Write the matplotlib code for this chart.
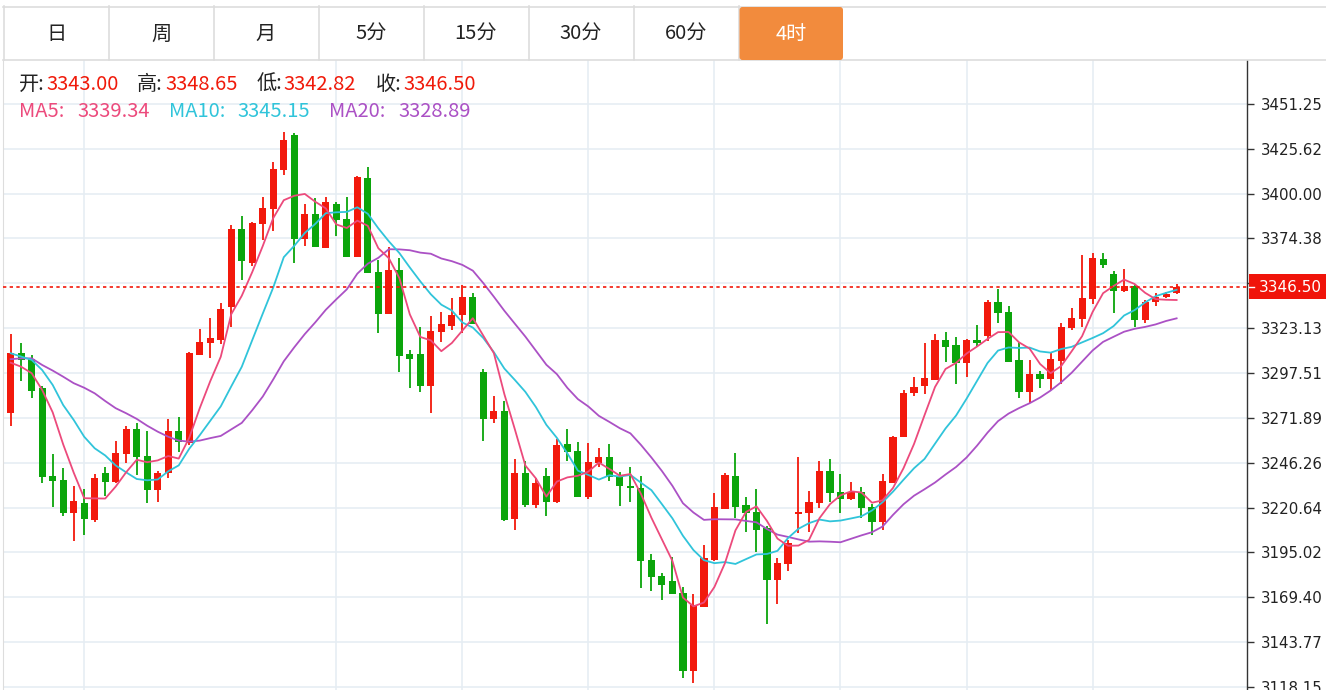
import numpy as np
import pandas as pd
import matplotlib
matplotlib.use("Agg")
import matplotlib.pyplot as plt
from matplotlib.patches import Rectangle, FancyBboxPatch

# ---------------- data ----------------
tabs = ['日', '周', '月', '5分', '15分', '30分', '60分', '4时']
active_tab = '4时'

opens = [3274.7, 3309.0, 3305.5, 3289.0, 3238.7, 3236.4, 3217.5, 3223.3, 3213.6, 3240.4,
         3235.3, 3251.3, 3265.5, 3250.1, 3230.7, 3240.4, 3264.4, 3257.5, 3307.8, 3314.7,
         3316.4, 3335.2, 3379.8, 3360.4, 3382.7, 3391.2, 3413.5, 3433.5, 3374.1, 3388.4,
         3369.0, 3394.1, 3385.5, 3363.8, 3408.9, 3355.2, 3331.2, 3356.4, 3308.4, 3308.4,
         3290.1, 3321.0, 3324.4, 3330.7, 3341.0, 3298.1, 3271.3, 3275.8, 3214.1, 3240.4,
         3222.1, 3238.7, 3223.8, 3257.0, 3253.0, 3226.7, 3246.1, 3249.5, 3238.1, 3233.0,
         3231.8, 3190.7, 3181.6, 3178.7, 3171.9, 3127.3, 3163.9, 3190.7, 3219.8, 3238.7,
         3222.1, 3218.1, 3209.0, 3179.3, 3188.4, 3217.0, 3217.5, 3223.3, 3241.6, 3229.6,
         3225.6, 3229.6, 3221.0, 3212.4, 3234.7, 3261.0, 3286.1, 3290.1, 3293.5, 3316.4,
         3313.5, 3303.3, 3316.4, 3318.7, 3338.1, 3332.4, 3305.0, 3286.7, 3297.0, 3294.1,
         3304.4, 3323.2, 3328.4, 3339.8, 3362.7, 3354.1, 3344.4, 3347.2, 3327.8, 3338.1,
         3341.0, 3343.00]
highs = [3319.8, 3314.7, 3307.8, 3290.1, 3251.3, 3243.3, 3233.0, 3231.3, 3239.8, 3243.8,
         3258.7, 3267.3, 3269.0, 3264.4, 3241.6, 3271.3, 3272.4, 3309.5, 3322.7, 3329.0,
         3337.5, 3382.1, 3387.2, 3383.8, 3398.1, 3418.1, 3435.2, 3434.7, 3394.1, 3397.5,
         3398.1, 3395.2, 3398.1, 3410.1, 3415.2, 3362.1, 3369.5, 3363.2, 3310.7, 3323.8,
         3330.1, 3332.4, 3340.4, 3347.8, 3343.2, 3299.8, 3284.4, 3281.5, 3248.4, 3247.3,
         3237.6, 3243.3, 3259.8, 3265.5, 3258.1, 3257.5, 3254.7, 3257.0, 3241.0, 3243.8,
         3238.7, 3194.1, 3183.3, 3192.4, 3175.3, 3171.3, 3199.3, 3229.0, 3240.4, 3251.8,
         3226.7, 3231.3, 3210.1, 3191.8, 3202.1, 3249.5, 3230.1, 3247.3, 3248.4, 3239.8,
         3235.2, 3232.4, 3222.7, 3239.8, 3261.5, 3287.8, 3295.3, 3314.7, 3319.8, 3321.0,
         3318.1, 3317.0, 3325.0, 3339.2, 3345.5, 3335.8, 3315.2, 3305.0, 3298.7, 3309.0,
         3326.1, 3334.7, 3364.9, 3366.1, 3366.1, 3355.8, 3356.9, 3347.8, 3339.2, 3343.2,
         3343.8, 3348.65]
lows = [3267.3, 3293.0, 3283.3, 3234.7, 3221.0, 3215.8, 3201.6, 3205.0, 3212.4, 3227.3,
        3234.7, 3246.1, 3239.3, 3223.3, 3223.8, 3237.6, 3252.4, 3256.4, 3307.8, 3306.1,
        3314.1, 3323.8, 3350.7, 3358.7, 3373.5, 3378.7, 3410.7, 3360.4, 3370.1, 3369.5,
        3369.0, 3375.8, 3363.8, 3363.8, 3354.7, 3320.4, 3331.2, 3298.1, 3289.0, 3286.7,
        3274.7, 3315.2, 3322.1, 3320.4, 3325.5, 3258.7, 3269.0, 3213.0, 3207.8, 3221.0,
        3220.4, 3215.8, 3223.3, 3247.3, 3226.7, 3225.6, 3243.8, 3235.8, 3221.6, 3223.8,
        3174.7, 3173.0, 3167.9, 3171.3, 3123.3, 3120.4, 3163.9, 3190.1, 3219.8, 3214.7,
        3206.7, 3195.3, 3154.1, 3165.6, 3184.4, 3206.1, 3206.7, 3220.4, 3223.8, 3217.5,
        3225.0, 3214.7, 3205.0, 3207.8, 3234.7, 3261.0, 3284.4, 3285.5, 3293.5, 3303.8,
        3291.3, 3295.3, 3312.4, 3315.8, 3326.1, 3303.8, 3283.3, 3280.4, 3289.0, 3287.8,
        3291.3, 3322.1, 3323.8, 3337.0, 3357.5, 3331.8, 3343.8, 3323.8, 3326.1, 3335.8,
        3340.4, 3342.82]
closes = [3309.0, 3305.0, 3287.3, 3238.1, 3235.8, 3217.5, 3224.4, 3214.1, 3237.6, 3235.3,
          3251.8, 3265.5, 3249.5, 3230.7, 3240.4, 3264.4, 3258.1, 3309.0, 3315.2, 3317.5,
          3334.1, 3379.8, 3361.5, 3383.2, 3391.8, 3414.1, 3430.7, 3374.1, 3388.4, 3369.5,
          3395.2, 3384.9, 3363.8, 3409.5, 3354.7, 3331.2, 3356.4, 3307.3, 3305.5, 3290.1,
          3321.5, 3325.5, 3330.7, 3341.0, 3325.5, 3271.3, 3275.8, 3213.6, 3240.4, 3222.1,
          3234.7, 3223.8, 3256.4, 3252.4, 3226.7, 3246.7, 3249.5, 3238.1, 3233.0, 3231.8,
          3190.1, 3181.0, 3176.4, 3171.3, 3127.3, 3165.0, 3191.8, 3221.0, 3239.3, 3221.0,
          3217.5, 3207.8, 3179.3, 3189.0, 3200.4, 3218.1, 3223.8, 3241.6, 3229.0, 3225.6,
          3229.6, 3220.4, 3212.4, 3235.8, 3261.0, 3286.1, 3289.5, 3294.7, 3316.4, 3312.4,
          3303.3, 3316.4, 3314.7, 3338.1, 3331.8, 3303.8, 3286.7, 3297.0, 3294.1, 3305.5,
          3323.8, 3329.0, 3340.4, 3363.2, 3359.2, 3344.4, 3347.2, 3327.8, 3338.1, 3341.0,
          3342.7, 3346.50]

# moving-average values at the left edge (window reaches before the first visible bar)
ma5_lead = [3303.4, 3301.1, 3297.4, 3287.8]
ma10_lead = [3308.8, 3306.9, 3305.0, 3299.2, 3290.7, 3279.2, 3270.7, 3261.1, 3254.5]
ma20_lead = [3305.4, 3305.9, 3305.9, 3302.1, 3298.9, 3295.4, 3291.7, 3289.1, 3285.9, 3281.5,
             3277.4, 3274.5, 3271.3, 3267.4, 3264.0, 3261.1, 3258.9, 3258.3, 3258.9]

y_ticks = [3118.15, 3143.77, 3169.40, 3195.02, 3220.64, 3246.26, 3271.89, 3297.51,
           3323.13, 3348.76, 3374.38, 3400.00, 3425.62, 3451.25]
y_tick_labels = ['3118.15', '3143.77', '3169.40', '3195.02', '3220.64', '3246.26', '3271.89',
                 '3297.51', '3323.13', '', '3374.38', '3400.00', '3425.62', '3451.25']
vgrid_idx = [7, 31, 43, 55, 67, 79, 91, 103]

last_price = 3346.50
last_price_label = '3346.50'
info_ohlc = [('开:', '3343.00'), ('高:', '3348.65'), ('低:', '3342.82'), ('收:', '3346.50')]
info_ma = [('MA5:', '3339.34'), ('MA10:', '3345.15'), ('MA20:', '3328.89')]

# ---------------- styles ----------------
RED = '#F2190C'
GREEN = '#0BA50B'
C_MA5 = '#EC4A7C'
C_MA10 = '#30C4DA'
C_MA20 = '#AB51C5'
GRID = '#E6EDF3'
CJK = ['Noto Sans CJK SC', 'DejaVu Sans']

W, H = 1326, 690
fig = plt.figure(figsize=(W / 100, H / 100), dpi=100)
fig.patch.set_facecolor('white')

ax_left, ax_right, ax_top = 3, 1247, 60
ax = fig.add_axes([ax_left / W, 0, (ax_right - ax_left) / W, (H - ax_top) / H])

o = np.array(opens); h = np.array(highs); l = np.array(lows); c = np.array(closes)
x = np.arange(len(c))
cols = np.where(c >= o, RED, GREEN)

s = pd.Series(c)
ma5 = s.rolling(5).mean().values
ma10 = s.rolling(10).mean().values
ma20 = s.rolling(20).mean().values
ma5[:len(ma5_lead)] = ma5_lead
ma10[:len(ma10_lead)] = ma10_lead
ma20[:len(ma20_lead)] = ma20_lead

for xi in vgrid_idx:
    ax.axvline(xi, color=GRID, lw=1.2, zorder=0)
ax.set_yticks(y_ticks)
ax.set_yticklabels(y_tick_labels)
ax.grid(axis='y', color=GRID, lw=1.2, zorder=0)
ax.set_axisbelow(True)

ax.vlines(x, l, h, colors=cols, lw=1.3, zorder=2)
ax.bar(x, np.maximum(np.abs(c - o), 0.7), bottom=np.minimum(o, c), width=0.68,
       color=cols, lw=0, zorder=3)

ax.plot(x, ma20, color=C_MA20, lw=1.3, zorder=4)
ax.plot(x, ma10, color=C_MA10, lw=1.3, zorder=4)
ax.plot(x, ma5, color=C_MA5, lw=1.3, zorder=4)

ax.axhline(last_price, color=RED, lw=1.2, ls=(0, (2, 2)), zorder=5)

ax.set_xlim(-0.73, 117.7)
ax.set_ylim(3116.4, 3476.35)
ax.set_xticks([])
ax.yaxis.tick_right()
ax.tick_params(axis='y', length=5, width=1, color='#333333', pad=5,
               labelsize=10.8, labelcolor='#222222')
for side in ['top', 'bottom']:
    ax.spines[side].set_visible(False)
ax.spines['left'].set_color('#DDDDDD')
ax.spines['right'].set_color('#333333')
ax.spines['right'].set_linewidth(1.0)

# ---------------- overlay (pixel coordinates) ----------------
ov = fig.add_axes([0, 0, 1, 1])
ov.set_xlim(0, W)
ov.set_ylim(H, 0)
ov.axis('off')

# tab bar
ov.add_patch(Rectangle((3, 6), W - 3, 54, fc='white', ec='none', zorder=1))
ov.plot([3, W], [6.5, 6.5], color='#DDDDDD', lw=1.2, zorder=2)
ov.plot([3, W], [60, 60], color='#DDDDDD', lw=1.2, zorder=2)
ov.plot([3.5, 3.5], [6, 60], color='#DDDDDD', lw=1.2, zorder=2)
tab_w = 105
tab_x0 = 3.5
for i, t in enumerate(tabs):
    xl = tab_x0 + i * tab_w
    xr = xl + tab_w
    if t == active_tab:
        ov.add_patch(FancyBboxPatch((xl + 1, 7), tab_w - 1.5, 53,
                                    boxstyle='round,pad=0,rounding_size=3',
                                    fc='#F28B3D', ec='none', zorder=3))
        tc = 'white'
    else:
        tc = '#222222'
        ov.plot([xr, xr], [6, 60], color='#DDDDDD', lw=1.2, zorder=2)
    ov.text((xl + xr) / 2, 34.5, t, ha='center', va='center', fontsize=14.5,
            color=tc, family=CJK, zorder=4)

# info lines
ohlc_pos = [(19, 46.5), (137, 165.5), (256.5, 283), (376, 403)]
for (lab, val), (xl, xv) in zip(info_ohlc, ohlc_pos):
    ov.text(xl, 84.5, lab, ha='left', va='center', fontsize=14.5, color='#222222', family=CJK)
    ov.text(xv, 84.5, val, ha='left', va='center', fontsize=14.5, color='#F01A0A', family=CJK)
ma_pos = [(19, 77), (169, 237), (329, 398)]
for (lab, val), (xl, xv), col in zip(info_ma, ma_pos, [C_MA5, C_MA10, C_MA20]):
    ov.text(xl, 111.5, lab, ha='left', va='center', fontsize=14.5, color=col, family=CJK)
    ov.text(xv, 111.5, val, ha='left', va='center', fontsize=14.5, color=col, family=CJK)

# last price label
ov.add_patch(Rectangle((1249, 274), W - 1249, 25, fc='#F0140A', ec='none', zorder=5))
ov.plot([1249, 1254], [287, 287], color='white', lw=1, zorder=6)
ov.text(1290, 287.5, last_price_label, ha='center', va='center', fontsize=11,
        color='white', zorder=6)

fig.savefig('out.png', dpi=100, facecolor='white')
